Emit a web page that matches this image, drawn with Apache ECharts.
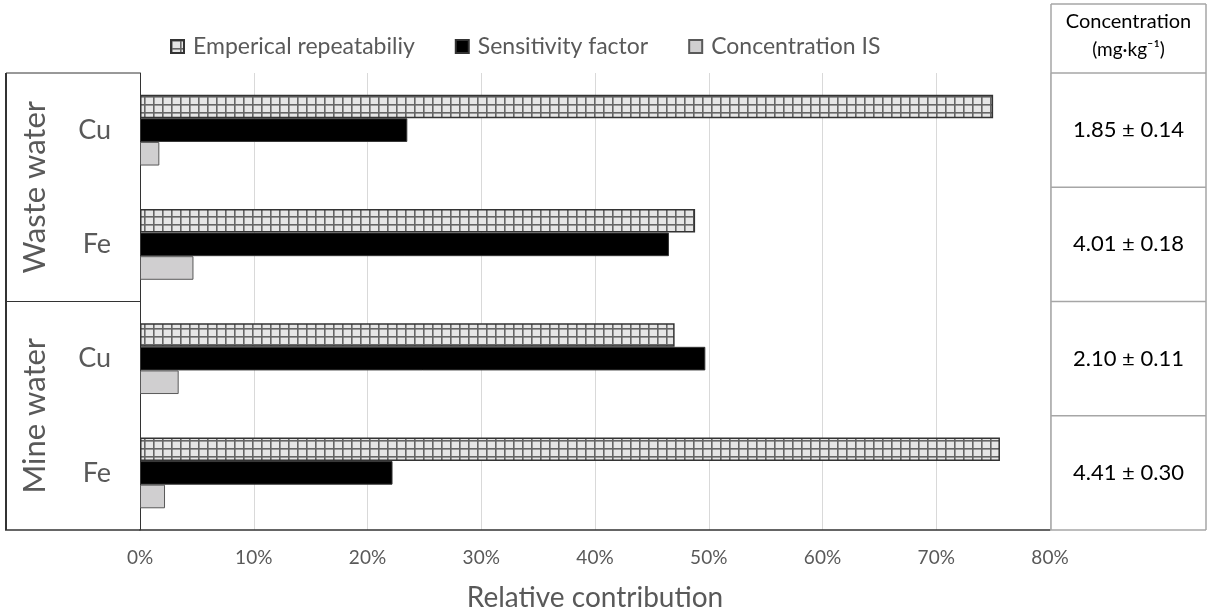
<!DOCTYPE html>
<html>
<head>
<meta charset="utf-8">
<script src="https://cdn.jsdelivr.net/npm/echarts@6/dist/echarts.min.js"></script>
<style>html,body{margin:0;padding:0;background:#fff}#c{width:1209px;height:615px}</style>
</head>
<body>
<div id="c"></div>
<script>
// ---- data ----
const categories = ['Cu', 'Fe', 'Cu', 'Fe'];
const groups = ['Waste water', 'Mine water'];
const seriesNames = ['Emperical repeatabiliy', 'Sensitivity factor', 'Concentration IS'];
const empirical = [0.750, 0.488, 0.470, 0.756];
const sensitivity = [0.235, 0.465, 0.497, 0.222];
const concIS = [0.017, 0.047, 0.034, 0.022];
const concentrations = ['1.85 ± 0.14', '4.01 ± 0.18', '2.10 ± 0.11', '4.41 ± 0.30'];
const tableHeader = ['Concentration', '(mg·kg⁻¹)'];
const xTicks = { min: 0, max: 0.8, interval: 0.1 };

// ---- pattern ----
const pc = document.createElement('canvas');
pc.width = 9; pc.height = 8;
const g = pc.getContext('2d');
g.fillStyle = '#e6e6e6'; g.fillRect(0, 0, 9, 8);
g.fillStyle = '#666'; g.fillRect(0, 0, 1.6, 8); g.fillRect(0, 0, 9, 1.6);

const W = 1209, H = 615;
const gridLeft = 140, gridRight = 1050, gridTop = 73, gridBottom = 530;
const font = 'Lato, "Noto Sans", sans-serif';
const grey = '#595959';

const chart = echarts.init(document.getElementById('c'));
const band = (gridBottom - gridTop) / categories.length;

const graphics = [];
function line(x1, y1, x2, y2, color, w) {
  graphics.push({ type: 'line', shape: { x1, y1, x2, y2 }, style: { stroke: color, lineWidth: w }, z: 10 });
}
function text(x, y, t, size, color, rot) {
  graphics.push({ type: 'text', x, y, rotation: rot || 0, style: { text: t, fontSize: size, fill: color, fontFamily: font, align: 'center', verticalAlign: 'middle' }, z: 10 });
}
// left box
line(6, gridTop, 6, gridBottom, '#333', 2);
line(6, gridTop, gridLeft, gridTop, '#333', 1);
line(6, gridTop + 2 * band, gridLeft, gridTop + 2 * band, '#333', 1);
line(5, gridBottom, gridLeft, gridBottom, '#333', 1.5);
groups.forEach((gname, i) => text(35, gridTop + band * (2 * i + 1), gname, 31, grey, Math.PI / 2));
// table
const tL = 1051, tR = 1206, tTop = 4;
const tc = '#a6a6a6';
line(tL, tTop, tL, gridBottom, tc, 1.5);
line(tR, tTop, tR, gridBottom, tc, 1.5);
line(tL, tTop, tR, tTop, tc, 1.5);
for (let i = 0; i <= categories.length; i++) line(tL, gridTop + band * i, tR, gridTop + band * i, tc, 1.5);
text((tL + tR) / 2, 22, tableHeader[0], 20, '#000');
text((tL + tR) / 2, 50, tableHeader[1], 19, '#000');
concentrations.forEach((c, i) => text((tL + tR) / 2, gridTop + band * (i + 0.5), c, 22, '#000'));

const barCommon = { type: 'bar', barGap: '0%', barCategoryGap: '38%' };
chart.setOption({
  animation: false,
  backgroundColor: '#fff',
  grid: { left: gridLeft, right: W - gridRight, top: gridTop, bottom: H - gridBottom, outerBoundsMode: 'none', containLabel: false },
  legend: {
    left: 165, top: 30, icon: 'rect', itemWidth: 13, itemHeight: 13, itemGap: 40,
    textStyle: { fontSize: 23, color: grey, fontFamily: font, padding: [0, 0, 0, 4] },
    data: seriesNames
  },
  xAxis: {
    type: 'value', min: xTicks.min, max: xTicks.max, interval: xTicks.interval,
    axisLine: { show: true, lineStyle: { color: '#333', width: 1.5 } },
    axisTick: { show: false },
    splitLine: { lineStyle: { color: '#d9d9d9' } },
    axisLabel: { formatter: v => Math.round(v * 100) + '%', fontSize: 19, color: grey, fontFamily: font, margin: 18 },
    name: 'Relative contribution', nameLocation: 'middle', nameGap: 54,
    nameTextStyle: { fontSize: 28, color: grey, fontFamily: font }
  },
  yAxis: {
    type: 'category', data: categories, inverse: true,
    axisLine: { show: true, lineStyle: { color: '#333', width: 1 } },
    axisTick: { show: false },
    axisLabel: { fontSize: 27, color: grey, fontFamily: font, margin: 29 }
  },
  series: [
    Object.assign({ name: seriesNames[0], data: empirical, itemStyle: { color: { image: pc, repeat: 'repeat' }, borderColor: '#333', borderWidth: 1.5 } }, barCommon),
    Object.assign({ name: seriesNames[1], data: sensitivity, itemStyle: { color: '#000', borderColor: '#333', borderWidth: 1 } }, barCommon),
    Object.assign({ name: seriesNames[2], data: concIS, itemStyle: { color: '#d0cfd0', borderColor: '#595959', borderWidth: 1 } }, barCommon)
  ],
  graphic: graphics
});
</script>
</body>
</html>
